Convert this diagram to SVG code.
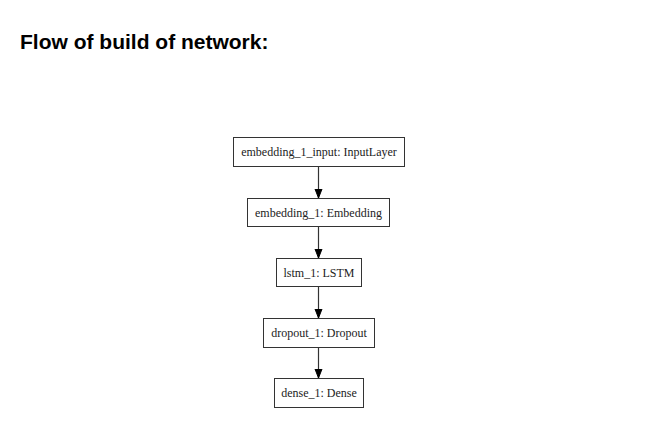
<svg xmlns="http://www.w3.org/2000/svg" width="648" height="435" viewBox="0 0 648 435">
<defs>
<style>
.title{font-family:"Liberation Sans",Arial,sans-serif;font-weight:bold;font-size:21px;fill:#000}
.node rect{fill:#fff;stroke:#333;stroke-width:1}
.node text{font-family:"Liberation Serif","Times New Roman",serif;font-size:12px;fill:#222;text-anchor:middle}
.edge{stroke:#333;stroke-width:1.2;fill:none;marker-end:url(#arr)}
</style>
<marker id="arr" markerWidth="10" markerHeight="10" refX="9" refY="5" orient="auto" markerUnits="userSpaceOnUse">
<path d="M0,1.5 L9,5 L0,8.5 Z" fill="#000" stroke="#000" stroke-width="1"/>
</marker>
</defs>
<rect width="648" height="435" fill="#fff"/>
<text class="title" x="20" y="49">Flow of build of network:</text>
<g id="connectors">
<line class="edge" x1="318.5" y1="166.5" x2="318.5" y2="198"/>
<line class="edge" x1="318.5" y1="226.5" x2="318.5" y2="258"/>
<line class="edge" x1="318.5" y1="286.5" x2="318.5" y2="318"/>
<line class="edge" x1="318.5" y1="346.5" x2="318.5" y2="378"/>
</g>
<g id="embedding_1_input" class="node">
<rect x="233.5" y="137.5" width="171" height="29"/>
<text x="319" y="156">embedding_1_input: InputLayer</text>
</g>
<g id="embedding_1" class="node">
<rect x="247.5" y="198.5" width="142" height="28"/>
<text x="318.5" y="216.5">embedding_1: Embedding</text>
</g>
<g id="lstm_1" class="node">
<rect x="276.5" y="258.5" width="85" height="28"/>
<text x="319" y="276.5">lstm_1: LSTM</text>
</g>
<g id="dropout_1" class="node">
<rect x="263.5" y="318.5" width="111" height="29"/>
<text x="319" y="337">dropout_1: Dropout</text>
</g>
<g id="dense_1" class="node">
<rect x="274.5" y="378.5" width="89" height="29"/>
<text x="319" y="397">dense_1: Dense</text>
</g>
</svg>
